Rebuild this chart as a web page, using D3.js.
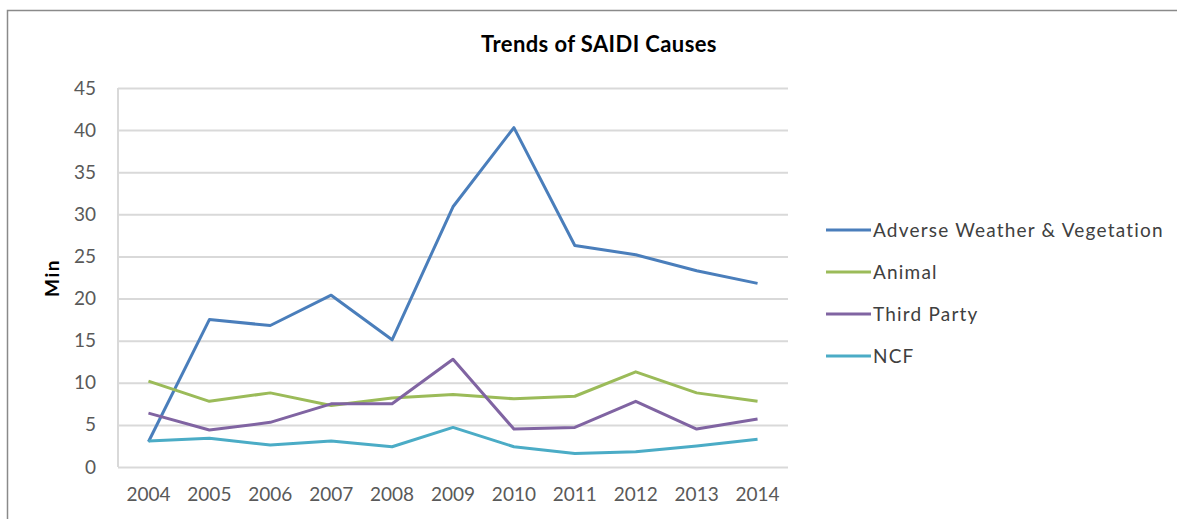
<!DOCTYPE html>
<html>
<head>
  <meta charset="utf-8" />
  <title>Trends of SAIDI Causes</title>
  <style type="text/css">
    body { margin: 0; background: #fff; }
    svg text { font-family: 'Lato', 'Open Sans', sans-serif; }
  </style>
</head>
<body>
  <div id="chart"></div>

  <script src="https://cdn.jsdelivr.net/npm/d3@7"></script>
  <script>
  // data
  var years = ['2004','2005','2006','2007','2008','2009','2010','2011','2012','2013','2014'];
  var seriesNames = ['Adverse Weather & Vegetation', 'Animal', 'Third Party', 'NCF'];
  var adverse    = [3.0, 17.5, 16.8, 20.4, 15.1, 30.9, 40.3, 26.3, 25.2, 23.3, 21.8];
  var animal     = [10.2, 7.8, 8.8, 7.3, 8.2, 8.6, 8.1, 8.4, 11.3, 8.8, 7.8];
  var thirdParty = [6.4, 4.4, 5.3, 7.5, 7.5, 12.8, 4.5, 4.7, 7.8, 4.5, 5.7];
  var ncf        = [3.1, 3.4, 2.6, 3.1, 2.4, 4.7, 2.4, 1.6, 1.8, 2.5, 3.3];
  var yTicks = [0, 5, 10, 15, 20, 25, 30, 35, 40, 45];
  var colors = ['#4a7ebb', '#9bbb59', '#8064a2', '#4bacc6'];

  var seriesValues = [adverse, animal, thirdParty, ncf];

  var width = 1177, height = 519;
  var plot = {left: 118, right: 788, top: 88, bottom: 467};

  var svg = d3.select('#chart').append('svg')
    .attr('width', width).attr('height', height);

  // outer frame
  svg.append('rect')
    .attr('x', 7.5).attr('y', 10.5)
    .attr('width', width + 20).attr('height', height + 20)
    .attr('fill', '#fff').attr('stroke', '#8a8a8a').attr('stroke-width', 1.5);

  var x = d3.scaleBand().domain(years).range([plot.left, plot.right]);
  var y = d3.scaleLinear().domain([0, 45]).range([plot.bottom, plot.top]);

  // gridlines + y labels
  var yAxis = svg.append('g')
    .attr('transform', 'translate(' + plot.left + ',0)')
    .call(d3.axisLeft(y).tickValues(yTicks).tickSize(-(plot.right - plot.left)).tickPadding(22));
  yAxis.select('.domain').remove();
  yAxis.selectAll('line').attr('stroke', '#d9d9d9').attr('stroke-width', 2);
  yAxis.selectAll('text').attr('fill', '#595959').style('font-size', '19px');

  // left axis line
  svg.append('line')
    .attr('x1', plot.left).attr('x2', plot.left)
    .attr('y1', plot.top).attr('y2', plot.bottom)
    .attr('stroke', '#d9d9d9').attr('stroke-width', 2);

  // x labels
  var xAxis = svg.append('g')
    .attr('transform', 'translate(0,' + plot.bottom + ')')
    .call(d3.axisBottom(x).tickSize(0).tickPadding(21));
  xAxis.select('.domain').remove();
  xAxis.selectAll('text').attr('fill', '#595959').style('font-size', '19px');

  // lines
  var line = d3.line()
    .x(function (d, i) { return x(years[i]) + x.bandwidth() / 2; })
    .y(function (d) { return y(d); });

  seriesValues.forEach(function (vals, k) {
    svg.append('path')
      .datum(vals)
      .attr('d', line)
      .attr('fill', 'none')
      .attr('stroke', colors[k])
      .attr('stroke-width', 3)
      .attr('stroke-linejoin', 'round');
  });

  // title
  svg.append('text')
    .attr('x', 599).attr('y', 52)
    .attr('text-anchor', 'middle')
    .style('font-size', '22px').style('font-weight', 'bold')
    .style('letter-spacing', '0.4px')
    .attr('fill', '#000')
    .text('Trends of SAIDI Causes');

  // y axis title
  svg.append('text')
    .attr('transform', 'translate(59,278) rotate(-90)')
    .attr('text-anchor', 'middle')
    .style('font-size', '19px').style('font-weight', 'bold')
    .style('letter-spacing', '1.5px')
    .attr('fill', '#000')
    .text('Min');

  // legend
  var legend = svg.append('g');
  seriesNames.forEach(function (name, k) {
    var ly = 230 + k * 42;
    legend.append('line')
      .attr('x1', 826).attr('x2', 871)
      .attr('y1', ly).attr('y2', ly)
      .attr('stroke', colors[k]).attr('stroke-width', 3);
    legend.append('text')
      .attr('x', 873).attr('y', ly + 7)
      .style('font-size', '19px')
      .style('letter-spacing', '1.2px')
      .attr('fill', '#404040')
      .text(name);
  });
  </script>
</body>
</html>
